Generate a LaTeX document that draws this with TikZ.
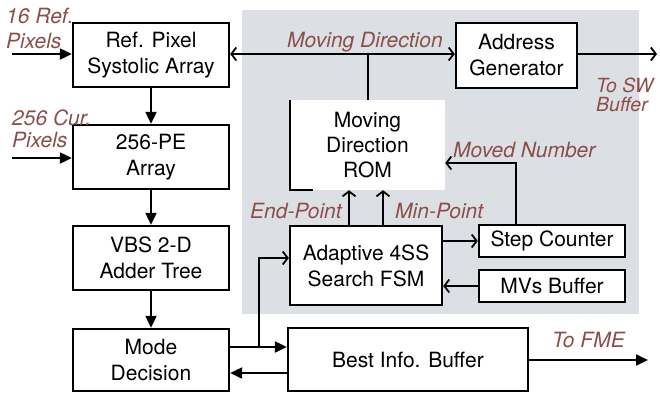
\documentclass[tikz,border=0pt]{standalone}
\usepackage{fontspec}
\setmainfont{TeX Gyre Heros}
\usetikzlibrary{arrows.meta,calc}
\definecolor{panel}{RGB}{220,224,229}
\definecolor{lbl}{RGB}{140,78,72}
\begin{document}
\begin{tikzpicture}[x=1pt,y=-1pt,
  box/.style={draw, line width=2.3pt, fill=white, inner sep=0pt, align=center, font=\fontsize{21}{26}\selectfont},
  rombox/.style={fill=white, inner sep=0pt, align=center, font=\fontsize{21}{25}\selectfont},
  lab/.style={text=lbl, font=\fontsize{21}{20}\selectfont\itshape, inner sep=0pt},
  conn/.style={line width=2pt},
  fa/.style={conn, -{Triangle[length=12pt,width=11pt]}},
  oa/.style={conn, -{Straight Barb[length=5pt,width=13pt,line width=1.8pt]}},
]
\useasboundingbox (0,0) rectangle (660,392);
\clip (0,0) rectangle (660,392);
\fill[panel] (242,10) rectangle (639,314);

% left column
\node[box, minimum width=156pt, minimum height=64pt] (ref) at (151,55) {Ref. Pixel\\Systolic Array};
\node[box, minimum width=156pt, minimum height=64pt] (pe) at (151,157) {256-PE\\Array};
\node[box, minimum width=156pt, minimum height=64pt] (vbs) at (151,258) {VBS 2-D\\Adder Tree};
\node[box, minimum width=156pt, minimum height=62pt] (mode) at (151,360) {Mode\\Decision};
\node[box, minimum width=240pt, minimum height=63pt] (best) at (408,359.5) {Best Info. Buffer};

% panel content
\node[rombox, minimum width=155pt, minimum height=90pt] (rom) at (367.5,145) {Moving\\Direction\\ROM};
\draw[conn] (rom.north west) -- (rom.south west) -- ++(23,0);
\node[box, minimum width=121pt, minimum height=65pt] (addr) at (516.5,55.5) {Address\\Generator};
\node[box, minimum width=152pt, minimum height=79pt] (fsm) at (366,265.5) {Adaptive 4SS\\Search FSM};
\node[box, minimum width=146pt, minimum height=32pt] (step) at (552,241) {Step Counter};
\node[box, minimum width=146pt, minimum height=32pt] (mvs) at (552,286) {MVs Buffer};

% coordinates
\coordinate (mdL) at (302,54);
\coordinate (sw) at (657,54);
\coordinate (mn) at (516,163);
\coordinate (ep) at (349,0);
\coordinate (mp) at (383,0);
\coordinate (in1) at (12,54);
\coordinate (in2) at (12,158);
\coordinate (mb) at (0,347);
\coordinate (bm) at (0,373);
\coordinate (br) at (259,347);
\coordinate (fi) at (259,258);
\coordinate (fme) at (648,360);

% connectors
\draw[oa] (mdL) -- (mdL -| addr.west);
\draw[oa] (mdL) -- (mdL -| ref.east);
\draw[conn] (rom.north) -- (rom.north |- mdL);
\draw[oa] (mdL -| addr.east) -- (sw);
\draw[oa] (step.north -| mn) -- (mn) -- (mn -| rom.east);
\draw[oa] (fsm.north -| ep) -- (rom.south -| ep);
\draw[oa] (fsm.north -| mp) -- (rom.south -| mp);
\draw[oa] (fsm.east |- step) -- (step.west);
\draw[oa] (mvs.west) -- (fsm.east |- mvs);
\draw[fa] (ref) -- (pe);
\draw[fa] (pe) -- (vbs);
\draw[fa] (vbs) -- (mode);
\draw[fa] (in1) -- (in1 -| ref.west);
\draw[fa] (in2) -- (in2 -| pe.west);
\draw[fa] (mb -| mode.east) -- (mb -| best.west);
\draw[fa] (bm -| best.west) -- (bm -| mode.east);
\draw[oa] (br) -- (fi) -- (fi -| fsm.west);
\draw[fa] (best.east |- fme) -- (fme);

% labels
\node[lab, anchor=base west] (l16a) at (6,23) {16 Ref.};
\node[lab, anchor=base west] (l16b) at (6,48) {Pixels};
\node[lab, anchor=base west] (l256a) at (12,125) {256 Cur.};
\node[lab, anchor=base west] (l256b) at (12,147) {Pixels};
\node[lab, anchor=base west] (lmd) at (287,47) {Moving Direction};
\node[lab, anchor=base west, font=\fontsize{19.5}{20}\selectfont\itshape] (lsw1) at (596,92) {To SW};
\node[lab, anchor=base west, font=\fontsize{19.5}{20}\selectfont\itshape] (lsw2) at (596,111) {Buffer};
\node[lab, anchor=base west] (lmn) at (453,157) {Moved Number};
\node[lab, anchor=base west] (lep) at (250,218) {End-Point};
\node[lab, anchor=base west] (lmp) at (395,218) {Min-Point};
\node[lab, anchor=base west] (lfme) at (552,347) {To FME};
\end{tikzpicture}
\end{document}
